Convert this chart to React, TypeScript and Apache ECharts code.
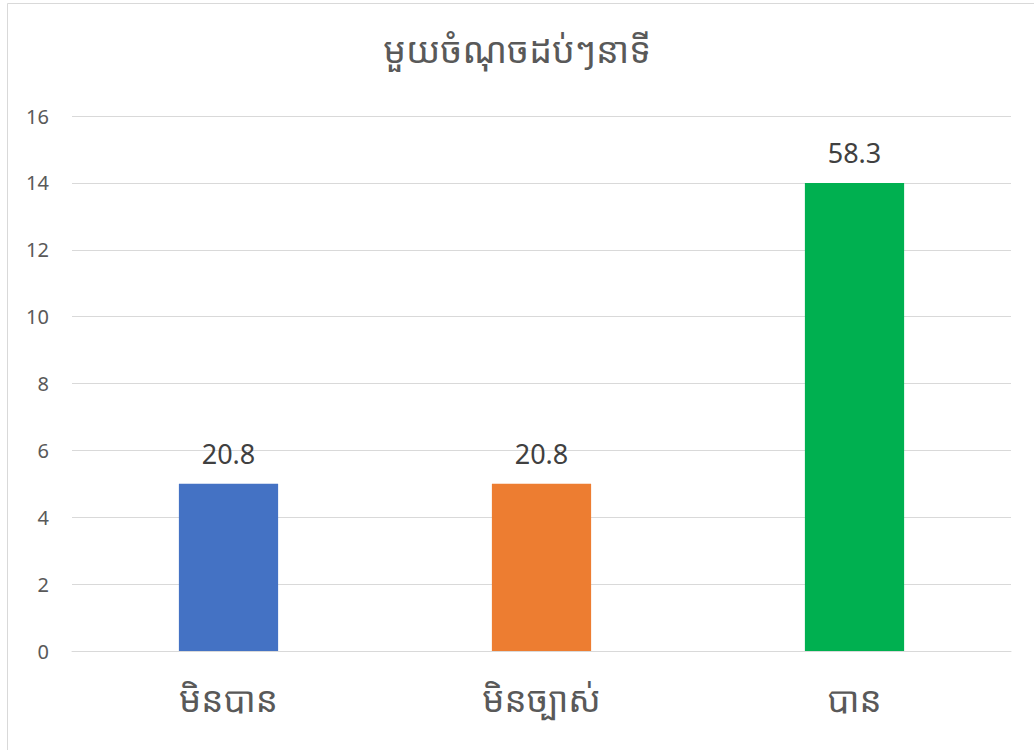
import React, { useEffect, useRef } from "react";
import * as echarts from "echarts";

const titleText = "មួយចំណុចដប់ៗនាទី";
const categories = ["មិនបាន", "មិនច្បាស់", "បាន"];
const values = [5, 5, 14];
const valueLabels = ["20.8", "20.8", "58.3"];
const barColors = ["#4472C4", "#ED7D31", "#00B050"];

const khmerFont = "'Noto Sans Khmer', 'Khmer OS', 'Noto Sans', 'DejaVu Sans', sans-serif";
const numFont = "'Noto Sans', 'Open Sans', sans-serif";

export default function App() {
  const ref = useRef<HTMLDivElement>(null);
  useEffect(() => {
    if (!ref.current) return;
    const chart = echarts.init(ref.current, null, { renderer: "svg" });
    chart.setOption({
      animation: false,
      backgroundColor: "#ffffff",
      title: {
        text: titleText,
        left: "center",
        top: 26,
        textStyle: { fontFamily: khmerFont, fontSize: 36, fontWeight: "normal", color: "#595959" },
      },
      graphic: [
        {
          type: "rect",
          shape: { x: 7.5, y: 3.5, width: 1100, height: 800 },
          style: { fill: "none", stroke: "#d9d9d9", lineWidth: 1 },
          silent: true,
        },
      ],
      grid: { left: 72, right: 23, top: 116, bottom: 99, containLabel: false },
      xAxis: {
        type: "category",
        data: categories,
        axisLine: { show: true, lineStyle: { color: "#d9d9d9", width: 1 } },
        axisTick: { show: false },
        axisLabel: {
          fontFamily: khmerFont,
          fontSize: 35,
          color: "#595959",
          margin: 30,
        },
      },
      yAxis: {
        type: "value",
        min: 0,
        max: 16,
        interval: 2,
        axisLine: { show: false },
        axisTick: { show: false },
        splitLine: { lineStyle: { color: "#d9d9d9", width: 1 } },
        axisLabel: { fontFamily: numFont, fontSize: 20, color: "#595959", margin: 23 },
      },
      series: [
        {
          type: "bar",
          barWidth: "31.7%",
          data: values.map((v, i) => ({ value: v, itemStyle: { color: barColors[i] } })),
          label: {
            show: true,
            position: "top",
            distance: 17,
            fontFamily: numFont,
            fontSize: 27,
            color: "#404040",
            formatter: (p: any) => valueLabels[p.dataIndex],
          },
        },
      ],
    });
    return () => chart.dispose();
  }, []);
  return (
    <div
      ref={ref}
      style={{ position: "fixed", left: 0, top: 0, width: 1034, height: 750 }}
    />
  );
}
